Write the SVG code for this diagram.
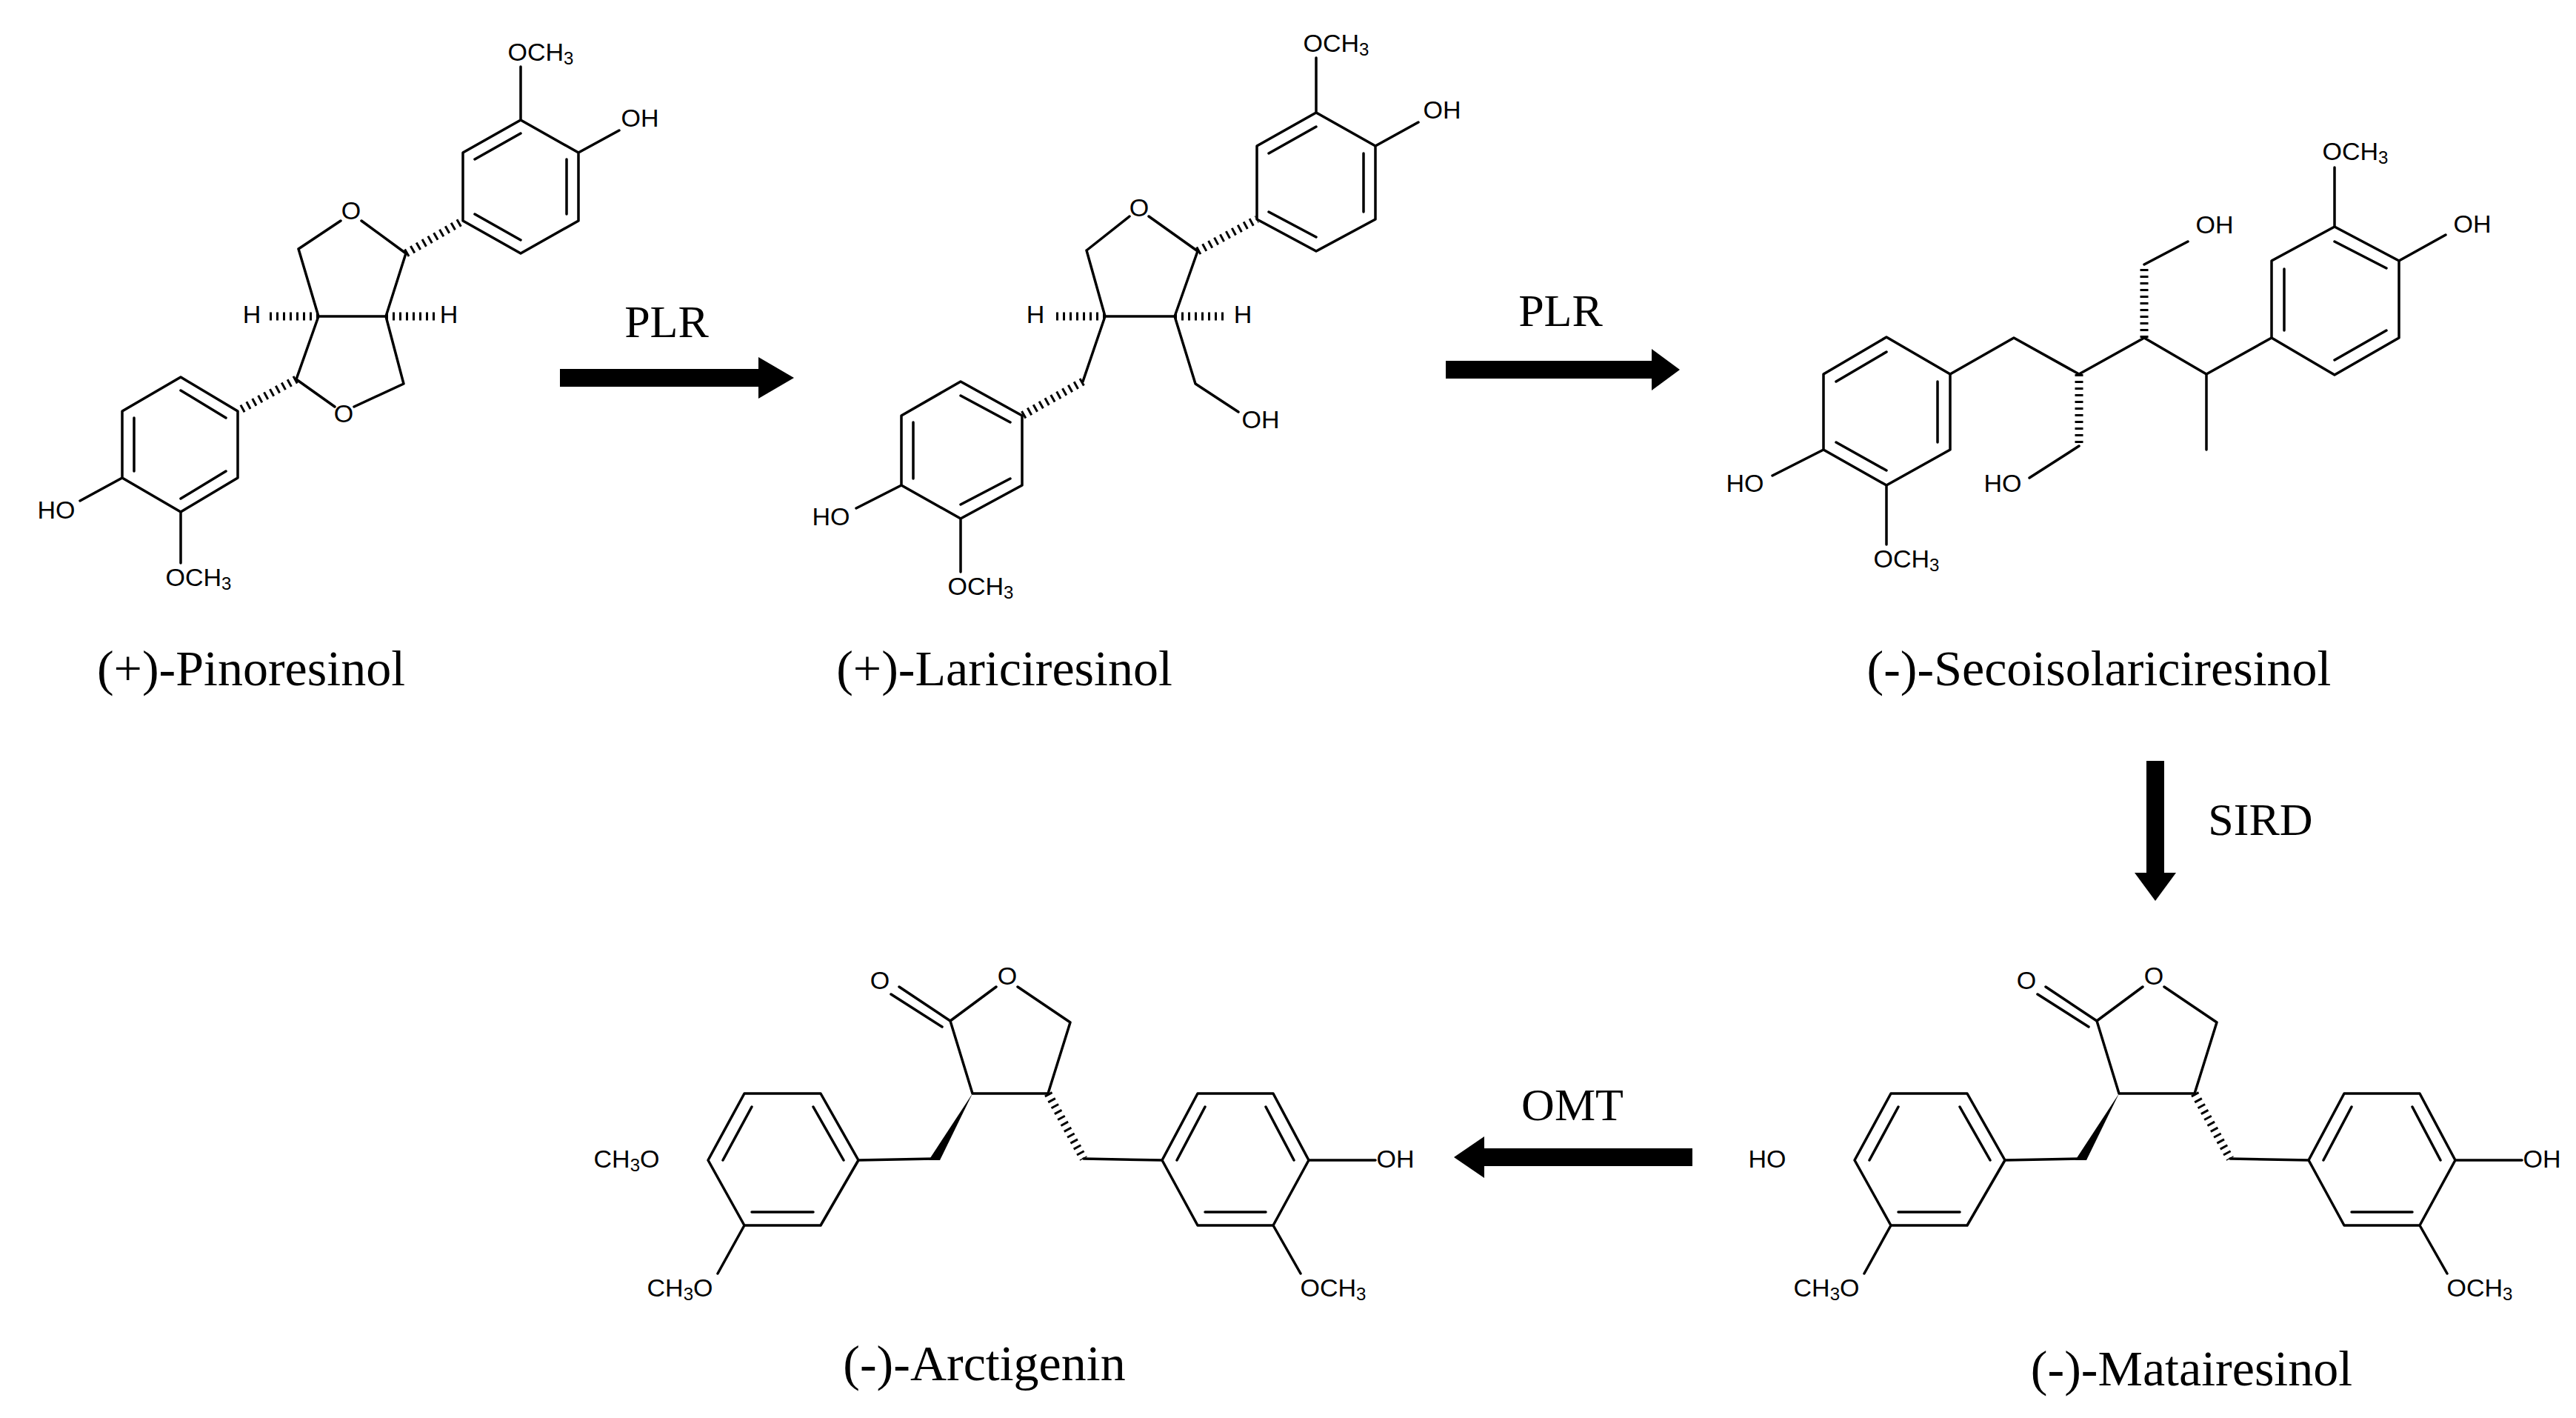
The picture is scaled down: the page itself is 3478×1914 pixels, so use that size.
<svg xmlns="http://www.w3.org/2000/svg" xmlns:xlink="http://www.w3.org/1999/xlink" width="3478" height="1914" viewBox="0 0 3478 1914">
<style>
.b{stroke:#000;stroke-width:3.5;fill:none;stroke-linecap:round;stroke-linejoin:round}
.h{stroke:#000;stroke-width:11;fill:none;stroke-dasharray:3 6}
.a{font-family:"Liberation Sans",Arial,sans-serif;font-size:34px;fill:#000;text-anchor:middle;dominant-baseline:central}
.s{font-size:24px}
.n{font-family:"Liberation Serif","Times New Roman",serif;font-size:68px;fill:#000;text-anchor:middle}
.e{font-family:"Liberation Serif","Times New Roman",serif;font-size:62px;fill:#000;text-anchor:middle}
</style>
<defs>
<g id="mskel">
<path class="b" d="M2831,1378 L2762,1332 M2820,1386 L2751,1342 M2831,1378 L2893,1332 M2922,1332 L2993,1380 L2963,1476 L2861,1476 L2831,1378"/>
<polygon points="2861,1476 2802,1566 2817,1566" fill="#000"/>
<line class="h" x1="2963" y1="1476" x2="3011" y2="1564"/>
<path class="b" d="M2809,1564 L2707,1566 M2553,1476 L2656,1476 L2707,1566 L2656,1654 L2553,1654 L2504,1566 Z M2524,1566 L2563,1494 M2646,1494 L2687,1566 M2646,1636 L2563,1636 M2553,1654 L2517,1719"/>
<path class="b" d="M3011,1564 L3117,1566 M3165,1476 L3267,1476 L3315,1566 L3267,1654 L3165,1654 L3117,1566 Z M3137,1566 L3175,1494 M3257,1494 L3295,1566 M3257,1636 L3175,1636 M3315,1566 L3405,1566 M3267,1654 L3304,1719"/>
</g>
</defs>
<rect width="3478" height="1914" fill="#fff"/>

<g id="pinoresinol">
<path class="b" d="M703,162 L781,206 L781,298 L703,342 L625,298 L625,206 Z M641,215 L703,180 M765,215 L765,289 M703,324 L641,289 M703,162 L703,90 M781,206 L836,176"/>
<path class="b" d="M244,509 L321,555 L321,645 L244,691 L165,645 L165,555 Z M244,527 L305,564 M181,636 L181,564 M305,636 L244,673 M165,645 L108,676 M244,691 L244,760"/>
<path class="b" d="M403,336 L460,298 M488,298 L548,342 L521,427 L430,427 L403,336 M430,427 L400,512 L452,549 M478,549 L545,518 L521,427"/>
<line class="h" x1="548" y1="342" x2="625" y2="298"/>
<line class="h" x1="400" y1="512" x2="321" y2="555"/>
<line class="h" x1="430" y1="427" x2="364" y2="427"/>
<line class="h" x1="521" y1="427" x2="590" y2="427"/>
<text class="a" x="474" y="284">O</text>
<text class="a" x="464" y="558">O</text>
<text class="a" x="340" y="424">H</text>
<text class="a" x="606" y="424">H</text>
<text class="a" x="730" y="70">OCH<tspan class="s" dy="8">3</tspan></text>
<text class="a" x="864" y="159">OH</text>
<text class="a" x="76" y="688">HO</text>
<text class="a" x="268" y="779">OCH<tspan class="s" dy="8">3</tspan></text>
<text class="n" x="339" y="925">(+)-Pinoresinol</text>
</g>

<g id="lariciresinol">
<path class="b" d="M1777,152 L1857,197 L1857,296 L1777,339 L1697,296 L1697,197 Z M1713,207 L1777,171 M1841,207 L1841,286 M1777,320 L1713,286 M1777,152 L1777,78 M1857,197 L1915,165"/>
<path class="b" d="M1297,515 L1380,561 L1380,655 L1297,700 L1217,655 L1217,561 Z M1297,534 L1364,570 M1233,646 L1233,570 M1364,646 L1297,681 M1217,655 L1156,686 M1297,700 L1297,772"/>
<path class="b" d="M1467,338 L1525,292 M1551,292 L1617,339 L1586,427 L1492,427 L1467,338 M1492,427 L1462,515 M1586,427 L1614,518 L1672,556"/>
<line class="h" x1="1617" y1="339" x2="1697" y2="296"/>
<line class="h" x1="1462" y1="515" x2="1380" y2="561"/>
<line class="h" x1="1492" y1="427" x2="1424" y2="427"/>
<line class="h" x1="1586" y1="427" x2="1658" y2="427"/>
<text class="a" x="1538" y="280">O</text>
<text class="a" x="1398" y="424">H</text>
<text class="a" x="1678" y="424">H</text>
<text class="a" x="1804" y="58">OCH<tspan class="s" dy="8">3</tspan></text>
<text class="a" x="1947" y="148">OH</text>
<text class="a" x="1702" y="566">OH</text>
<text class="a" x="1122" y="697">HO</text>
<text class="a" x="1324" y="791">OCH<tspan class="s" dy="8">3</tspan></text>
<text class="n" x="1356" y="925">(+)-Lariciresinol</text>
</g>

<g id="secoisolariciresinol">
<path class="b" d="M2547,455 L2633,505 L2633,607 L2547,655 L2462,607 L2462,505 Z M2479,515 L2547,475 M2616,515 L2616,597 M2547,635 L2479,597 M2462,607 L2393,642 M2547,655 L2547,735"/>
<path class="b" d="M2633,505 L2719,456 L2807,505 L2895,456 L2979,505 L3067,456 M2979,505 L2979,607 M2807,602 L2740,645 M2895,357 L2954,326"/>
<path class="b" d="M3152,306 L3239,352 L3239,456 L3152,506 L3067,456 L3067,352 Z M3084,363 L3084,446 M3152,326 L3222,362 M3222,446 L3152,486 M3152,306 L3152,226 M3239,352 L3302,317"/>
<line class="h" x1="2807" y1="505" x2="2807" y2="602"/>
<line class="h" x1="2895" y1="456" x2="2895" y2="357"/>
<text class="a" x="2704" y="652">HO</text>
<text class="a" x="2990" y="303">OH</text>
<text class="a" x="3180" y="204">OCH<tspan class="s" dy="8">3</tspan></text>
<text class="a" x="3338" y="302">OH</text>
<text class="a" x="2356" y="652">HO</text>
<text class="a" x="2574" y="754">OCH<tspan class="s" dy="8">3</tspan></text>
<text class="n" x="2834" y="925">(-)-Secoisolariciresinol</text>
</g>

<g id="matairesinol">
<use xlink:href="#mskel"/>
<text class="a" x="2736" y="1323">O</text>
<text class="a" x="2908" y="1317">O</text>
<text class="a" x="2386" y="1564">HO</text>
<text class="a" x="2466" y="1738">CH<tspan class="s" dy="8">3</tspan><tspan dy="-8">O</tspan></text>
<text class="a" x="3432" y="1564">OH</text>
<text class="a" x="3348" y="1738">OCH<tspan class="s" dy="8">3</tspan></text>
<text class="n" x="2959" y="1870">(-)-Matairesinol</text>
</g>

<g id="arctigenin">
<use xlink:href="#mskel" transform="translate(-1548,0)"/>
<text class="a" x="1188" y="1323">O</text>
<text class="a" x="1360" y="1317">O</text>
<text class="a" x="846" y="1564">CH<tspan class="s" dy="8">3</tspan><tspan dy="-8">O</tspan></text>
<text class="a" x="918" y="1738">CH<tspan class="s" dy="8">3</tspan><tspan dy="-8">O</tspan></text>
<text class="a" x="1884" y="1564">OH</text>
<text class="a" x="1800" y="1738">OCH<tspan class="s" dy="8">3</tspan></text>
<text class="n" x="1329" y="1863">(-)-Arctigenin</text>
</g>

<g id="connectors">
<rect x="756" y="498" width="272" height="24"/>
<polygon points="1024,482 1072,510 1024,538"/>
<rect x="1952" y="487" width="282" height="24"/>
<polygon points="2230,471 2268,499 2230,527"/>
<rect x="2898" y="1027" width="24" height="155"/>
<polygon points="2882,1178 2910,1216 2938,1178"/>
<rect x="2000" y="1550" width="285" height="24"/>
<polygon points="2004,1534 1963,1562 2004,1590"/>
<text class="e" x="900" y="455">PLR</text>
<text class="e" x="2107" y="440">PLR</text>
<text class="e" x="3052" y="1127">SIRD</text>
<text class="e" x="2123" y="1512">OMT</text>
</g>
</svg>
